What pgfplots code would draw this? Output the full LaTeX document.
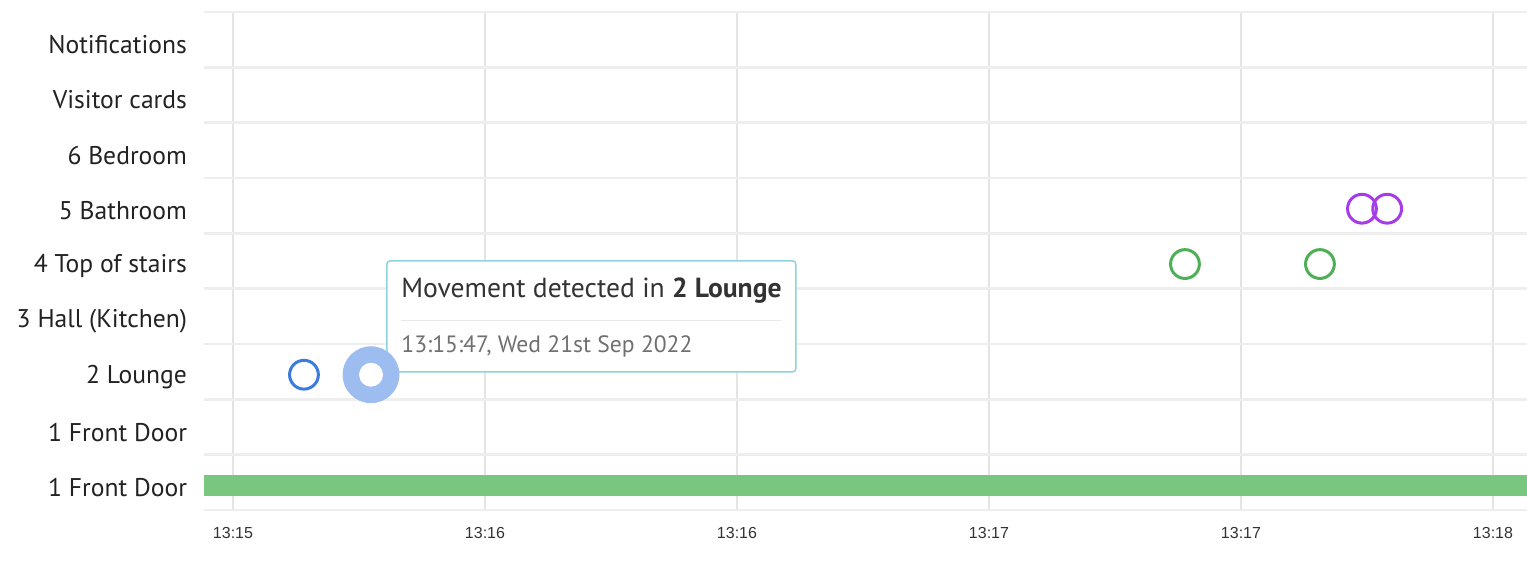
\documentclass[border=0pt]{standalone}
\usepackage{pgfplots}
\pgfplotsset{compat=1.18}
\usepackage{fontspec}
\setmainfont{PT Sans}
\newfontfamily\tickfont{Liberation Sans}
\definecolor{ringblue}{HTML}{3C7BE0}
\definecolor{haloblue}{HTML}{9DBCF0}
\definecolor{ringgreen}{HTML}{4FAF56}
\definecolor{ringpurple}{HTML}{A53CE8}
\definecolor{bargreen}{HTML}{79C77F}
\definecolor{ttborder}{HTML}{8ED3DF}
\definecolor{gridV}{HTML}{E4E4E4}
\definecolor{gridH}{HTML}{EEEEEE}
\definecolor{labc}{HTML}{222222}
\definecolor{tickc}{HTML}{333333}
\definecolor{ttsub}{HTML}{707070}
\begin{document}
\begin{tikzpicture}
\begin{axis}[
  at={(0,0)}, anchor=south west,
  scale only axis, width=661.5bp, height=249bp,
  xmin=-3.452, xmax=154.05, ymin=-0.445, ymax=8.555,
  axis line style={draw=none},
  major tick length=0pt, minor tick length=0pt,
  xtick={0,30,60,90,120,150},
  xticklabels={13:15,13:16,13:16,13:17,13:17,13:18},
  ytick={0,...,8},
  yticklabels={1 Front Door,1 Front Door,2 Lounge,3 Hall (Kitchen),4 Top of stairs,5 Bathroom,6 Bedroom,Visitor cards,Notifications},
  minor ytick={-0.445,0.555,...,8.6},
  xmajorgrids, yminorgrids,
  major grid style={draw=gridV, line width=0.8bp},
  minor grid style={draw=gridH, line width=1.3bp},
  xticklabel style={font=\tickfont\fontsize{8bp}{9.5bp}\selectfont, text=tickc, yshift=-5bp},
  yticklabel style={font=\fontsize{12.8bp}{14bp}\selectfont, text=labc, xshift=-5bp, yshift=-1bp},
]
% bar for 1 Front Door
\addplot[draw=bargreen, line width=10.8bp] coordinates {(-3.452,0) (154.05,0)};
% 2 Lounge
\addplot[only marks, mark=o, mark size=7.2bp, color=ringblue, mark options={line width=1.5bp}] coordinates {(8.45,2)};
\addplot[only marks, mark=*, mark size=14bp, color=haloblue, mark options={fill=haloblue, draw=haloblue}] coordinates {(16.43,2)};
\addplot[only marks, mark=*, mark size=5.75bp, color=white, mark options={fill=white, draw=white}] coordinates {(16.43,2)};
% 4 Top of stairs
\addplot[only marks, mark=o, mark size=7.2bp, color=ringgreen, mark options={line width=1.5bp}] coordinates {(113.33,4) (129.4,4)};
% 5 Bathroom
\addplot[only marks, mark=o, mark size=7.2bp, color=ringpurple, mark options={line width=1.5bp}] coordinates {(134.4,5) (137.4,5)};
% tooltip
\draw[draw=ttborder, line width=0.75bp, fill=white, rounded corners=1.5bp] (axis cs:18.33,2.051) rectangle (axis cs:67.0,4.057);
\node[anchor=base west, inner sep=0pt, font=\fontsize{13.8bp}{16bp}\selectfont, text=tickc] at (axis cs:20.0,3.389) {Movement detected in \textbf{2 Lounge}};
\draw[draw=gray!18, line width=0.5bp] (axis cs:20.0,2.973) -- (axis cs:65.2,2.973);
\node[anchor=base west, inner sep=0pt, font=\fontsize{11.8bp}{13bp}\selectfont, text=ttsub] at (axis cs:20.0,2.395) {13:15:47, Wed 21st Sep 2022};
\end{axis}
\pgfresetboundingbox
\useasboundingbox (-102bp,-27bp) rectangle (661.5bp,255bp);
\end{tikzpicture}
\end{document}
